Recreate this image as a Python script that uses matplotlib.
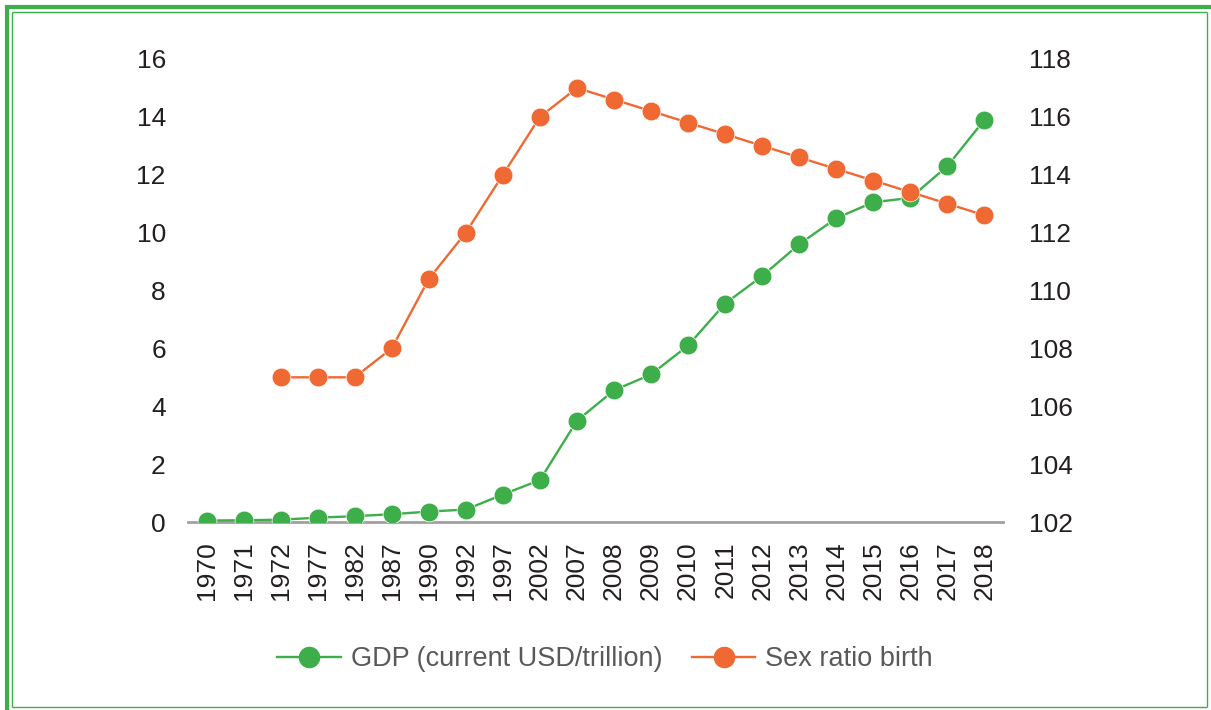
import matplotlib
matplotlib.use('Agg')
import matplotlib.pyplot as plt
from matplotlib.lines import Line2D

# Data
years = ['1970', '1971', '1972', '1977', '1982', '1987', '1990', '1992', '1997',
         '2002', '2007', '2008', '2009', '2010', '2011', '2012', '2013', '2014',
         '2015', '2016', '2017', '2018']
gdp = [0.05, 0.06, 0.08, 0.15, 0.2, 0.27, 0.36, 0.43, 0.95, 1.45, 3.5, 4.55,
       5.1, 6.1, 7.55, 8.5, 9.6, 10.5, 11.05, 11.2, 12.3, 13.9]
# Sex ratio starts in 1972
sex_ratio = [None, None, 107, 107, 107, 108, 110.4, 112, 114, 116, 117, 116.6,
             116.2, 115.8, 115.4, 115.0, 114.6, 114.2, 113.8, 113.4, 113.0, 112.6]

left_ticks = [0, 2, 4, 6, 8, 10, 12, 14, 16]
right_ticks = [102, 104, 106, 108, 110, 112, 114, 116, 118]

green = '#3DAE4A'
orange = '#F06832'
text_col = '#231F20'

plt.rcParams['font.family'] = ['Liberation Sans', 'DejaVu Sans']

W, H = 1211, 710
fig = plt.figure(figsize=(W / 100, H / 100), dpi=100)
fig.patch.set_facecolor('white')

ax1 = fig.add_axes([188 / W, 1 - 522 / H, (1003 - 188) / W, (522 - 59) / H])
ax2 = ax1.twinx()

x = list(range(len(years)))
ax1.plot(x, gdp, color=green, lw=1.7, marker='o', ms=13.5,
         markeredgecolor='white', markeredgewidth=0.5,
         label='GDP (current USD/trillion)', zorder=3)

xs = [i for i, v in zip(x, sex_ratio) if v is not None]
ys = [v for v in sex_ratio if v is not None]
ax2.plot(xs, ys, color=orange, lw=1.7, marker='o', ms=13.5,
         markeredgecolor='white', markeredgewidth=0.5,
         label='Sex ratio birth', zorder=3)

ax1.set_xlim(-0.5, len(years) - 0.5)
ax1.set_ylim(0, 16)
ax2.set_ylim(102, 118)
ax1.set_yticks(left_ticks)
ax2.set_yticks(right_ticks)
ax1.set_xticks(x)
ax1.set_xticklabels(years, rotation=90)

for ax in (ax1, ax2):
    for s in ax.spines.values():
        s.set_visible(False)
ax1.axhline(0, color='#A0A0A0', lw=2, zorder=1, clip_on=False)

ax1.tick_params(axis='y', length=0, pad=16, labelsize=19, labelcolor=text_col)
ax2.tick_params(axis='y', length=0, pad=19, labelsize=19, labelcolor=text_col)
ax1.tick_params(axis='x', length=0, pad=14, labelsize=19, labelcolor=text_col)

handles = [Line2D([], [], color=green, lw=1.7, marker='o', ms=14.5),
           Line2D([], [], color=orange, lw=1.7, marker='o', ms=14.5)]
fig.legend(handles, ['GDP (current USD/trillion)', 'Sex ratio birth'],
           loc='center', bbox_to_anchor=(605 / W, 1 - 659 / H), ncol=2,
           frameon=False, fontsize=19.5, labelcolor='#595959',
           handlelength=2.35, columnspacing=1.1, handletextpad=0.35)

# green double border
def px_line(x0, y0, x1, y1, lw):
    fig.add_artist(Line2D([x0 / W, x1 / W], [1 - y0 / H, 1 - y1 / H],
                          transform=fig.transFigure, color=green, lw=lw,
                          solid_capstyle='butt'))

px_line(5, 7, W, 7, 3.0)
px_line(7, 5, 7, H, 3.0)
px_line(12, 12, 1207, 12, 1.0)
px_line(12, 12, 12, 707, 1.0)
px_line(1207, 12, 1207, 707, 1.0)
px_line(12, 707, 1207, 707, 1.0)

fig.savefig('out.png', dpi=100, facecolor='white')
